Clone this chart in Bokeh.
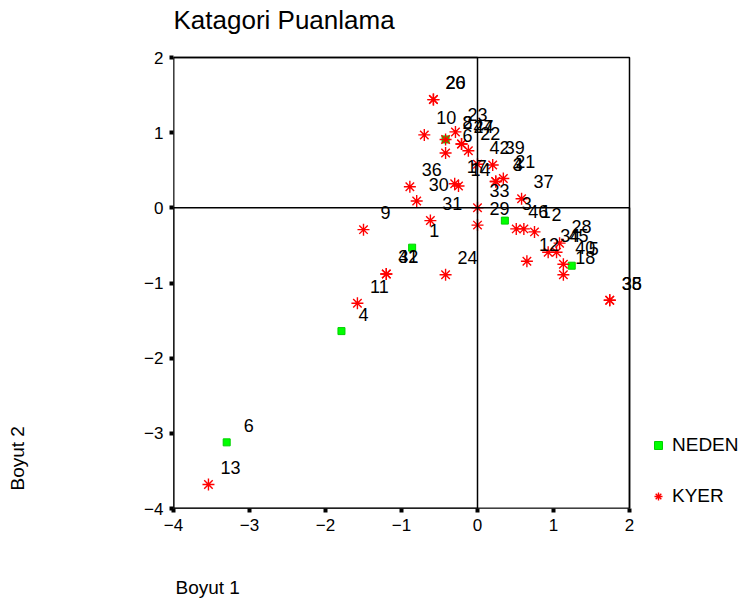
import math
from bokeh.plotting import figure
from bokeh.models import (Range1d, FixedTicker, Label, LabelSet, Title,
                          ColumnDataSource, Legend, LegendItem, BoxAnnotation)
from bokeh.core.properties import value
from bokeh.embed import file_html
from bokeh.resources import INLINE

# ---- data ----
title_text = "Katagori Puanlama"
x_title = "Boyut 1"
y_title = "Boyut 2"
ticks = [-4, -3, -2, -1, 0, 1, 2]

neden_labels = ["1", "2", "3", "4", "5", "6"]
neden_x = [-0.86, -0.42, 0.36, -1.79, 1.24, -3.30]
neden_y = [-0.53, 0.91, -0.17, -1.64, -0.77, -3.12]

kyer_labels = ["20", "26", "10", "8", "23", "44", "27", "6", "22", "42",
               "39", "36", "30", "17", "14", "4", "3", "21", "37", "33",
               "29", "31", "9", "46", "1", "2", "28", "34", "45", "12",
               "40", "18", "32", "41", "24", "11", "13", "35", "38"]
kyer_x = [-0.58, -0.58, -0.70, -0.42, -0.29, -0.21, -0.21, -0.42, -0.12, 0.00,
          0.20, -0.89, -0.80, -0.30, -0.25, 0.24, 0.24, 0.34, 0.58, 0.00,
          0.00, -0.62, -1.50, 0.51, 0.61, 0.75, 1.08, 0.93, 1.04, 0.65,
          1.13, 1.13, -1.20, -1.20, -0.42, -1.58, -3.54, 1.74, 1.74]
kyer_y = [1.44, 1.44, 0.97, 0.91, 1.01, 0.85, 0.85, 0.73, 0.76, 0.58,
          0.57, 0.28, 0.09, 0.32, 0.29, 0.35, 0.35, 0.39, 0.12, 0.00,
          -0.23, -0.17, -0.29, -0.28, -0.28, -0.32, -0.47, -0.59, -0.59, -0.71,
          -0.75, -0.89, -0.88, -0.88, -0.89, -1.27, -3.68, -1.23, -1.23]

FONT = "Liberation Sans"
LO, HI = -4, 2
PX_X = 76.0          # pixels per unit, x
PX_Y = 451.0 / 6.0   # pixels per unit, y
FRAME_W = 749 - 173
FRAME_H = 604 - 96

neden_src = ColumnDataSource(dict(x=neden_x, y=neden_y, lab=neden_labels))
kyer_src = ColumnDataSource(dict(x=kyer_x, y=kyer_y, lab=kyer_labels))

p = figure(width=749, height=604,
           x_range=Range1d(LO, LO + FRAME_W / PX_X),
           y_range=Range1d(LO, LO + FRAME_H / PX_Y),
           output_backend="svg", toolbar_location=None,
           min_border_left=173, min_border_right=0,
           min_border_top=0, min_border_bottom=96)
p.title.text = ""
p.grid.visible = False
p.background_fill_color = "white"
p.border_fill_color = "white"
p.outline_line_color = None

for ax in (p.xaxis, p.yaxis):
    ax.ticker = FixedTicker(ticks=ticks)
    ax.axis_line_color = None
    ax.major_tick_in = 0
    ax.major_tick_out = 4
    ax.major_tick_line_width = 4
    ax.major_tick_line_color = "black"
    ax.minor_tick_line_color = None
    ax.major_label_text_font = FONT
    ax.major_label_text_font_size = "17px"
    ax.major_label_text_color = "black"
    ax.major_label_standoff = 6

# plot box and the two zero lines
p.add_layout(BoxAnnotation(left=LO, right=HI, bottom=LO, top=HI, fill_alpha=0,
                           line_color="black", line_width=1.5, line_alpha=1))
p.add_layout(BoxAnnotation(left=LO, right=HI, bottom=LO, top=0, fill_alpha=0,
                           line_color="black", line_width=1.5, line_alpha=1))
p.add_layout(BoxAnnotation(left=LO, right=0, bottom=LO, top=HI, fill_alpha=0,
                           line_color="black", line_width=1.5, line_alpha=1))

g = p.scatter("x", "y", source=neden_src, marker="square", size=7,
              fill_color="#00ff00", line_color="#00d000", line_width=1)
r = p.scatter("x", "y", source=kyer_src, marker="asterisk", size=12,
              line_color="#ff0000", line_width=1.4, angle=math.pi / 2)

for src in (neden_src, kyer_src):
    p.add_layout(LabelSet(x="x", y="y", text="lab", source=src,
                          x_offset=22, y_offset=17,
                          text_font=value(FONT), text_font_size=value("18px"),
                          text_color="black", text_align="center",
                          text_baseline="middle"))

legend = Legend(items=[LegendItem(label="NEDEN", renderers=[g]),
                       LegendItem(label="KYER", renderers=[r])],
                location=(475, 1), orientation="vertical",
                glyph_width=20, glyph_height=20, label_height=20,
                label_standoff=4, spacing=29, padding=0, margin=0,
                border_line_color=None, background_fill_alpha=0,
                label_text_font=FONT, label_text_font_size="19px",
                label_text_color="black")
p.add_layout(legend)

p.add_layout(Label(x=0, y=FRAME_H - 19, x_units="screen", y_units="screen",
                   text=title_text, text_font=FONT, text_font_size="26px",
                   text_baseline="middle", text_align="left", text_color="black"))

# spacers (blank titles) push the axis titles outward
p.add_layout(Title(text=" ", standoff=18, text_font=FONT,
                   text_font_size="19px"), "below")
p.add_layout(Title(text=x_title, align="left", offset=2, standoff=0,
                   text_font=FONT, text_font_size="19px",
                   text_font_style="normal", text_color="black"), "below")
p.add_layout(Title(text=" ", standoff=91, text_font=FONT,
                   text_font_size="19px"), "left")
p.add_layout(Title(text=y_title, align="left", offset=18, standoff=0,
                   text_font=FONT, text_font_size="19px",
                   text_font_style="normal", text_color="black"), "left")

open("out.html", "w").write(file_html(p, INLINE))
